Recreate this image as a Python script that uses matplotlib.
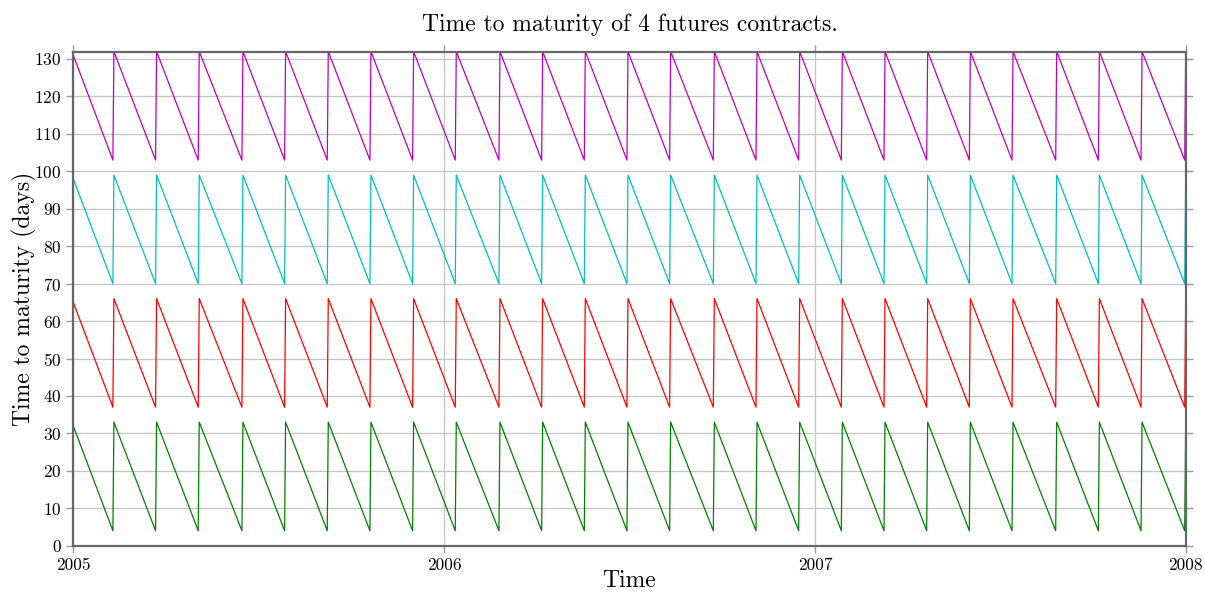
import matplotlib
matplotlib.use("Agg")
import matplotlib.pyplot as plt
import pandas as pd

plt.rcParams["font.family"] = "serif"
plt.rcParams["font.serif"] = ["cmr10", "DejaVu Serif"]
plt.rcParams["mathtext.fontset"] = "cm"
plt.rcParams["axes.formatter.use_mathtext"] = True

# Roll dates: the day each contract is replaced by the next one
start_date = "2005-01-01"
roll_dates = [
    "2005-02-10", "2005-03-24", "2005-05-05", "2005-06-17", "2005-07-29",
    "2005-09-09", "2005-10-21", "2005-12-02", "2006-01-13", "2006-02-25",
    "2006-04-08", "2006-05-20", "2006-07-01", "2006-08-12", "2006-09-24",
    "2006-11-05", "2006-12-17", "2007-01-28", "2007-03-11", "2007-04-22",
    "2007-06-03", "2007-07-15", "2007-08-27", "2007-10-08", "2007-11-19",
    "2008-01-01",
]

# Time to maturity (days) for each contract: value on the first day,
# value just before a roll, value just after a roll
contracts = ["F1", "F2", "F3", "F4"]
start_values = [32, 65, 98, 131]
trough_values = [4, 37, 70, 103]
peak_values = [33, 66, 99, 132]
colors = ["g", "r", "c", "m"]

x_ticks = ["2005-01-01", "2006-01-01", "2007-01-01", "2008-01-01"]
x_tick_labels = ["2005", "2006", "2007", "2008"]
y_ticks = list(range(0, 131, 10))

fig = plt.figure(figsize=(12.05, 5.92), dpi=100)
ax = fig.add_axes([0.0608, 0.0782, 0.9232, 0.8348])

rolls = pd.to_datetime(roll_dates)
t0 = pd.Timestamp(start_date)
for name, s0, lo, hi, col in zip(contracts, start_values, trough_values,
                                 peak_values, colors):
    xs = [t0]
    ys = [s0]
    for d in rolls:
        xs += [d - pd.Timedelta(days=1), d]
        ys += [lo, hi]
    ax.plot(xs, ys, color=col, lw=0.9, label=name)

ax.set_xlim(pd.Timestamp(x_ticks[0]), pd.Timestamp(x_ticks[-1]))
ax.set_ylim(0, 132)
ax.set_xticks(pd.to_datetime(x_ticks))
ax.set_xticklabels(x_tick_labels)
ax.set_yticks(y_ticks)

ax.grid(True, color="#c4c4c4", lw=0.9)
ax.set_axisbelow(True)
for side in ["left", "bottom", "top", "right"]:
    ax.spines[side].set_color("#666666")
    ax.spines[side].set_linewidth(1.6)
ax.tick_params(axis="both", direction="out", length=5, width=1.0,
               color="#999999", labelsize=12.5, top=True, right=True)

ax.set_title("Time to maturity of 4 futures contracts.", fontsize=17, pad=15)
ax.set_xlabel("Time", fontsize=17, labelpad=-2)
ax.set_ylabel("Time to maturity (days)", fontsize=17, labelpad=-2)

fig.savefig("out.png", dpi=100)
